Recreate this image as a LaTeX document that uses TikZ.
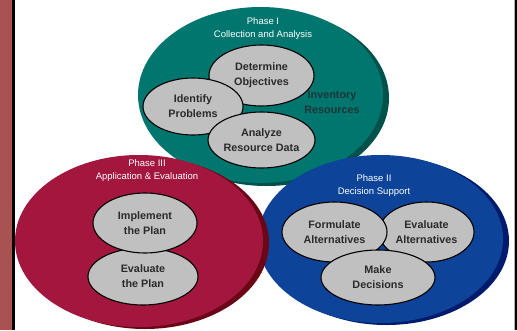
\documentclass[tikz,border=0pt]{standalone}
\usepackage{fontspec}
\setmainfont{Liberation Sans}
\usetikzlibrary{shapes.geometric}
\definecolor{stripred}{HTML}{A85252}
\definecolor{tealmain}{HTML}{00766F}
\definecolor{tealshadow}{HTML}{00504B}
\definecolor{crimmain}{HTML}{A3173F}
\definecolor{crimshadow}{HTML}{6A0616}
\definecolor{bluemain}{HTML}{0D449A}
\definecolor{blueshadow}{HTML}{001A6E}
\definecolor{grayfill}{HTML}{C0C0C0}
\definecolor{graytext}{HTML}{2A2A2A}
\definecolor{invtext}{HTML}{1E3636}
\tikzset{
  bigell/.style={ellipse, inner sep=0pt, draw=none},
  item/.style={ellipse, draw=black, line width=1.1pt, fill=grayfill, inner sep=0pt,
    align=center, text=graytext, font=\fontsize{10.8}{15}\selectfont\bfseries},
  phaselabel/.style={align=center, text=white, inner sep=0pt,
    font=\fontsize{9.5}{13}\selectfont}
}
\begin{document}
\begin{tikzpicture}[x=1pt,y=-1pt]
\useasboundingbox (0,0) rectangle (517,330);
\fill[white] (0,0) rectangle (517,330);
% side bars
\fill[stripred] (0,0) rectangle (12,330);
\fill[black] (12,0) rectangle (15,330);
\fill[gray!60] (513.5,0) rectangle (514.5,330);
\fill[black] (514.5,0) rectangle (517,330);

% Phase I (teal)
\fill[tealshadow] (266.5,98) ellipse [x radius=122.5, y radius=88];
\node[bigell, fill=tealmain, minimum width=245pt, minimum height=176pt] (p1) at (260.5,95) {};
\node[phaselabel] (p1lab) at (263,28.5) {Phase I\\Collection and Analysis};

% Phase II (blue)
\fill[blueshadow] (386.5,241) ellipse [x radius=122.5, y radius=84];
\node[bigell, fill=bluemain, minimum width=245pt, minimum height=168pt] (p2) at (380.5,239) {};
\node[phaselabel] (p2lab) at (374,185.5) {Phase II\\Decision Support};

% Phase III (crimson)
\fill[crimshadow] (145,243) ellipse [x radius=124, y radius=86];
\node[bigell, fill=crimmain, minimum width=248pt, minimum height=172pt] (p3) at (139,241) {};
\node[phaselabel] (p3lab) at (147,170.5) {Phase III\\Application \& Evaluation};

% Phase I items
\node[item, minimum width=105pt, minimum height=61pt] (obj) at (261.5,75.5) {Determine\\Objectives};
\node[item, minimum width=100pt, minimum height=57pt] (prob) at (193,106.5) {Identify\\Problems};
\node[item, minimum width=105pt, minimum height=56pt] (anal) at (261.5,140) {Analyze\\Resource Data};
\node[align=center, inner sep=0pt, text=invtext, font=\fontsize{10.8}{15}\selectfont\bfseries] (inv) at (332,102) {Inventory\\Resources};

% Phase II items
\node[item, minimum width=95pt, minimum height=60pt] (evalt) at (426.5,232) {Evaluate\\Alternatives};
\node[item, minimum width=105pt, minimum height=60pt] (form) at (334.5,232) {Formulate\\Alternatives};
\node[item, minimum width=114pt, minimum height=55pt] (make) at (378,277.5) {Make\\Decisions};

% Phase III items
\node[item, minimum width=110pt, minimum height=57pt] (evplan) at (143,276.5) {Evaluate\\the Plan};
\node[item, minimum width=104pt, minimum height=60pt] (impl) at (145,223) {Implement\\the Plan};
\end{tikzpicture}
\end{document}
